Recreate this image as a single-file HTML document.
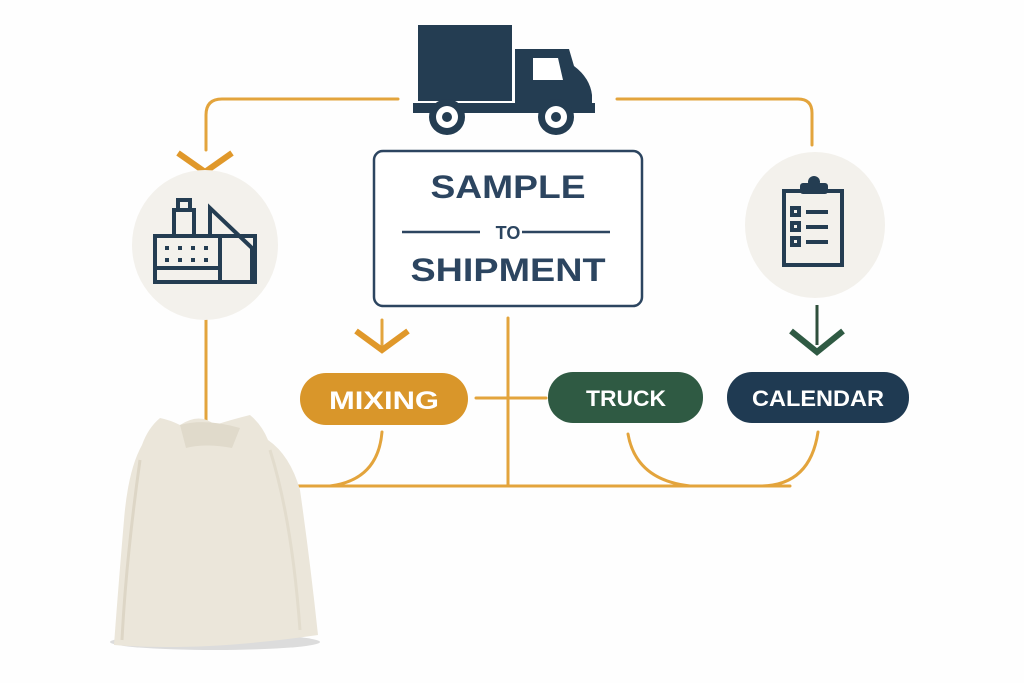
<!DOCTYPE html>
<html><head><style>
body{margin:0;background:#fff;}
svg{display:block}
text{font-family:"Liberation Sans",sans-serif;font-weight:bold}
</style></head><body>
<svg width="1024" height="683" viewBox="0 0 1024 683" xmlns="http://www.w3.org/2000/svg">
<rect width="1024" height="683" fill="#fefefe"/>
<g fill="none" stroke="#e3a43c" stroke-width="3" stroke-linecap="round">
<path d="M398 99 H222 Q206 99 206 115 V150"/>
<path d="M617 99 H798 Q812 99 812 113 V145"/>
<path d="M206 320 V420"/>
<path d="M508 318 V486"/>
<path d="M296 486 H790"/>
<path d="M382 432 Q378 480 330 486"/>
<path d="M628 434 Q636 480 690 486"/>
<path d="M818 432 Q810 486 760 486"/>
<path d="M382 320 V345"/>
<path d="M476 398 H546"/>
</g>
<path d="M178 153 L205 172 L232 153" fill="none" stroke="#e0982a" stroke-width="6"/>
<path d="M356 331 L382 350 L408 331" fill="none" stroke="#e0982a" stroke-width="6"/>
<path d="M817 305 V345" stroke="#2f4f3c" stroke-width="3"/>
<path d="M791 331 L817 352 L843 331" fill="none" stroke="#2f5a43" stroke-width="6"/>
<!-- truck -->
<g fill="#243d52">
<rect x="418" y="25" width="94" height="76"/>
<path d="M515 49 H569 L574 66 Q590 78 592 95 V103 H515 Z"/>
<rect x="413" y="103" width="182" height="10"/>
<circle cx="447" cy="117" r="18"/><circle cx="556" cy="117" r="18"/>
</g>
<path d="M533 58 H558 L563 80 H533 Z" fill="#fff"/>
<circle cx="447" cy="117" r="11" fill="#fff"/><circle cx="447" cy="117" r="5" fill="#243d52"/>
<circle cx="556" cy="117" r="11" fill="#fff"/><circle cx="556" cy="117" r="5" fill="#243d52"/>
<!-- circles -->
<ellipse cx="205" cy="245" rx="73" ry="75" fill="#f3f1ec"/>
<ellipse cx="815" cy="225" rx="70" ry="73" fill="#f3f1ec"/>
<!-- factory icon -->
<g fill="none" stroke="#243d52" stroke-width="4">
<rect x="155" y="236" width="100" height="46"/>
<rect x="174" y="210" width="20" height="26"/>
<rect x="178" y="200" width="12" height="10"/>
<path d="M210 236 V208 L252 248 V282"/>
<path d="M155 268 H220"/><path d="M220 236 V282"/>
</g>
<g fill="#243d52"><rect x="165" y="246" width="4" height="4"/><rect x="178" y="246" width="4" height="4"/><rect x="191" y="246" width="4" height="4"/><rect x="204" y="246" width="4" height="4"/><rect x="165" y="258" width="4" height="4"/><rect x="178" y="258" width="4" height="4"/><rect x="191" y="258" width="4" height="4"/><rect x="204" y="258" width="4" height="4"/></g>
<!-- clipboard -->
<g fill="none" stroke="#243d52" stroke-width="4">
<rect x="784" y="191" width="58" height="74"/>
<rect x="792" y="208" width="7" height="7"/><rect x="792" y="223" width="7" height="7"/><rect x="792" y="238" width="7" height="7"/>
<path d="M806 212 H828 M806 227 H828 M806 242 H828"/>
</g>
<rect x="800" y="183" width="28" height="11" rx="3" fill="#243d52"/>
<circle cx="814" cy="182" r="6" fill="#243d52"/>
<!-- center box -->
<rect x="374" y="151" width="268" height="155" rx="9" fill="#fff" stroke="#2c4560" stroke-width="2.5"/>
<text x="508" y="198" font-size="32" fill="#2c4560" text-anchor="middle" textLength="155" lengthAdjust="spacingAndGlyphs">SAMPLE</text>
<text x="508" y="239" font-size="18" fill="#2c4560" text-anchor="middle" font-weight="normal">TO</text>
<path d="M402 232 H480 M522 232 H610" stroke="#2c4560" stroke-width="2.5"/>
<text x="508" y="281" font-size="32" fill="#2c4560" text-anchor="middle" textLength="195" lengthAdjust="spacingAndGlyphs">SHIPMENT</text>
<!-- pills -->
<rect x="300" y="373" width="168" height="52" rx="26" fill="#d9962a"/>
<text x="384" y="409" font-size="25" fill="#fff" text-anchor="middle" textLength="110" lengthAdjust="spacingAndGlyphs">MIXING</text>
<rect x="548" y="372" width="155" height="51" rx="25" fill="#2f5a43"/>
<text x="626" y="406" font-size="22" fill="#fff" text-anchor="middle" textLength="80" lengthAdjust="spacingAndGlyphs">TRUCK</text>
<rect x="727" y="372" width="182" height="51" rx="25" fill="#1f3a52"/>
<text x="818" y="406" font-size="22" fill="#fff" text-anchor="middle" textLength="132" lengthAdjust="spacingAndGlyphs">CALENDAR</text>
<!-- bag -->
<ellipse cx="215" cy="642" rx="105" ry="8" fill="#dcdcdc"/>
<path d="M180 425 Q170 420 160 418 Q148 428 142 445 Q128 470 124 520 Q118 590 114 645 Q200 652 318 635 Q310 560 300 490 Q290 455 268 440 Q262 425 250 415 Q230 420 215 425 Q200 412 180 425 Z" fill="#ebe6da"/>
<path d="M180 425 Q205 418 240 428 L232 448 Q205 443 186 448 Z" fill="#e0dacb"/>
<path d="M140 460 Q126 560 122 640" stroke="#ddd6c6" stroke-width="3" fill="none"/>
<path d="M270 450 Q292 520 300 630" stroke="#e2dccd" stroke-width="3" fill="none"/>
</svg>
</body></html>
